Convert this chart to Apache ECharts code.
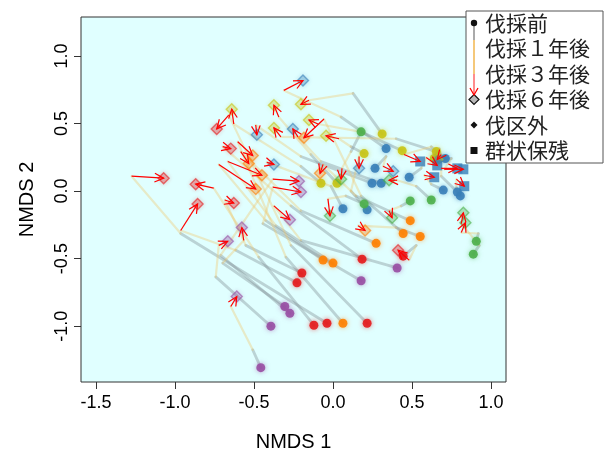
<!DOCTYPE html>
<html><head><meta charset="utf-8">
<script src="https://cdn.jsdelivr.net/npm/echarts@6/dist/echarts.min.js"></script>
<style>html,body{margin:0;padding:0;background:#fff}#c{width:604px;height:457px}</style>
</head><body><div id="c"></div>
<script>
// ---- data (NMDS coordinates) ----
const xTicks = [-1.5, -1.0, -0.5, 0.0, 0.5, 1.0];
const yTicks = [-1.0, -0.5, 0.0, 0.5, 1.0];
const legendLabels = ['伐採前', '伐採１年後', '伐採３年後', '伐採６年後', '伐区外', '群状保残'];
const siteGroup = ['purple','purple','purple','purple','purple','purple',
  'red','red','red','red','red','red','red',
  'orange','orange','orange','orange','orange','orange','orange',
  'yellow','yellow','yellow','yellow','yellow','yellow','yellow',
  'blue','blue','blue','blue','blue','blue',
  'blue','blue','blue','blue','blue','blue',
  'green','green','green','green','green','green'];
const siteType = ['c','c','c','c','c','c', 'c','c','c','c','c','c','c',
  'c','c','c','c','c','c','c', 'c','c','c','c','c','c','c',
  'c','c','c','c','c','c', 'r','r','r','r','r','r',
  'c','c','c','c','c','c'];
const before = [[-0.457,-1.307],[-0.393,-1.000],[-0.305,-0.854],[-0.273,-0.905],[0.178,-0.664],[0.406,-0.569],
  [-0.197,-0.606],[-0.228,-0.679],[-0.121,-0.993],[-0.038,-0.978],[0.216,-0.978],[0.184,-0.504],[0.444,-0.482],
  [-0.063,-0.511],[0.000,-0.533],[0.063,-0.978],[0.273,-0.387],[0.444,-0.314],[0.489,-0.219],[0.552,-0.336],
  [-0.076,0.058],[0.025,0.058],[0.311,0.423],[0.438,0.299],[0.654,0.292],[0.197,0.277],[0.641,0.241],
  [0.336,0.314],[0.247,0.058],[0.305,0.058],[0.063,-0.131],[0.216,-0.139],[0.266,0.168],
  [0.698,0.007],[0.806,-0.036],[0.711,0.241],[0.666,0.234],[0.482,0.102],[0.787,-0.007],
  [0.178,0.438],[0.197,-0.095],[0.489,-0.073],[0.622,-0.066],[0.888,-0.467],[0.907,-0.372]];
const year1 = [[-0.508,-1.175],[-0.742,-0.635],[-0.698,-0.533],[-0.711,-0.475],[-0.444,-0.241],[-0.203,-0.365],
  [-0.552,-0.402],[-0.615,-0.438],[-0.470,-0.489],[-0.964,-0.314],[-0.266,-0.402],[-0.266,-0.110],[0.527,-0.402],
  [-0.425,-0.219],[-0.362,-0.256],[-0.298,-0.489],[-0.203,-0.146],[0.178,-0.036],[0.146,-0.036],[0.400,-0.270],
  [-0.203,0.183],[-0.140,0.270],[0.127,0.723],[0.178,0.438],[0.400,0.387],[0.114,0.328],[0.673,0.314],
  [0.051,0.548],[-0.203,0.256],[-0.076,0.219],[-0.013,0.036],[0.114,0.000],[0.336,0.256],
  [0.622,0.051],[0.781,0.022],[0.622,0.328],[0.749,0.241],[0.558,0.168],[0.685,0.110],
  [0.114,0.292],[0.082,-0.036],[0.431,-0.110],[0.527,0.036],[0.926,-0.402],[0.920,-0.314]];
const year3 = [[-0.647,-0.854],[-0.723,-0.402],[-0.565,-0.365],[-0.381,0.088],[-0.381,0.029],[-0.374,-0.110],
  [-0.685,-0.066],[-0.964,-0.292],[-0.755,0.022],[-1.275,0.110],[-0.660,0.562],[-0.698,0.329],[0.482,-0.511],
  [-0.723,0.197],[-0.666,0.219],[-0.603,0.365],[-0.584,0.292],[-0.057,0.533],[-0.063,0.197],[0.159,-0.256],
  [-0.628,0.496],[-0.343,0.548],[-0.152,0.672],[-0.095,0.496],[-0.330,0.401],[0.038,0.387],[0.685,0.270],
  [-0.311,0.745],[-0.489,0.489],[-0.222,0.401],[-0.419,0.212],[0.165,0.256],[0.317,0.183],
  [0.577,0.117],[0.781,0.088],[0.450,0.270],[0.704,0.161],[0.590,0.248],[0.685,0.168],
  [0.057,0.168],[-0.032,-0.058],[0.355,-0.146],[0.406,0.080],[0.812,-0.241],[0.812,-0.307]];
const year6 = [[-0.609,-0.781],[-0.666,-0.372],[-0.577,-0.270],[-0.216,0.073],[-0.203,-0.007],[-0.273,-0.212],
  [-0.628,-0.088],[-0.857,-0.095],[-0.869,0.051],[-1.072,0.095],[-0.736,0.460],[-0.647,0.314],[0.412,-0.438],
  [-0.489,0.015],[-0.450,0.117],[-0.508,0.263],[-0.533,0.204],[-0.184,0.394],[-0.082,0.131],[0.203,-0.292],
  [-0.641,0.606],[-0.374,0.635],[-0.203,0.642],[-0.152,0.526],[-0.374,0.467],[-0.044,0.409],[0.660,0.234],
  [-0.190,0.818],[-0.482,0.416],[-0.254,0.460],[-0.374,0.197],[0.165,0.168],[0.381,0.146],
  [0.641,0.102],[0.831,0.036],[0.552,0.219],[0.825,0.161],[0.660,0.190],[0.787,0.168],
  [0.051,0.088],[-0.019,-0.183],[0.374,-0.197],[0.355,0.080],[0.825,-0.161],[0.838,-0.234]];

const palette = {red:'#e41a1c', blue:'#377eb8', green:'#4daf4a', purple:'#984ea3', orange:'#ff7f00', yellow:'#c8c414'};
function alpha(hex, a) {
  const n = parseInt(hex.slice(1), 16);
  return 'rgba(' + (n >> 16) + ',' + ((n >> 8) & 255) + ',' + (n & 255) + ',' + a + ')';
}

// ---- build series ----
const segData = (a, b) => a.map((p, i) => [p[0], p[1], b[i][0], b[i][1]]);
function segSeries(data, color, width, z) {
  return { type:'custom', z:z, silent:true, data:data,
    renderItem:(params, api) => {
      const s = api.coord([api.value(0), api.value(1)]);
      const e = api.coord([api.value(2), api.value(3)]);
      return { type:'line', shape:{x1:s[0], y1:s[1], x2:e[0], y2:e[1]},
        style:{stroke:color, lineWidth:width, lineCap:'round'} };
    } };
}
const arrowSeries = { type:'custom', z:10, silent:true, data: segData(year3, year6),
  renderItem:(params, api) => {
    const s = api.coord([api.value(0), api.value(1)]);
    const e = api.coord([api.value(2), api.value(3)]);
    const ang = Math.atan2(e[1]-s[1], e[0]-s[0]);
    const L = 10, h = 0.45;
    const a1 = [e[0]-L*Math.cos(ang-h), e[1]-L*Math.sin(ang-h)];
    const a2 = [e[0]-L*Math.cos(ang+h), e[1]-L*Math.sin(ang+h)];
    return { type:'group', children:[
      { type:'line', shape:{x1:s[0], y1:s[1], x2:e[0], y2:e[1]}, style:{stroke:'#ff0000', lineWidth:1.2} },
      { type:'polyline', shape:{points:[a1, e, a2]}, style:{stroke:'#ff0000', fill:null, lineWidth:1.2} }
    ]};
  } };

const beforePts = before.map((p, i) => ({ value:p,
  itemStyle:{ color:palette[siteGroup[i]], opacity:0.9, shadowBlur:5, shadowColor:alpha(palette[siteGroup[i]], 0.6) } }));
const afterDiamonds = year6.map((p, i) => siteType[i] === 'r' ? null : ({ value:p,
  itemStyle:{ color:alpha(palette[siteGroup[i]], 0.35), borderColor:alpha(palette[siteGroup[i]], 0.75), borderWidth:1.4,
    shadowBlur:4, shadowColor:alpha(palette[siteGroup[i]], 0.4) } })).filter(Boolean);
const afterSquares = year6.map((p, i) => siteType[i] === 'r' ? ({ value:p,
  itemStyle:{ color:palette[siteGroup[i]] } }) : null).filter(Boolean);

const chart = echarts.init(document.getElementById('c'), null, {renderer:'canvas'});
const axisFont = {fontFamily:'Liberation Sans, Arial, sans-serif', fontSize:18, color:'#000'};
const legendY = [23, 48.5, 74, 99.5, 125, 150.5];
const lx = 474;
const graphics = [
  { type:'rect', shape:{x:466, y:11, width:137, height:152}, style:{fill:'#fff', stroke:'#555', lineWidth:1}, z:100 },
  { type:'line', shape:{x1:lx, y1:legendY[0], x2:lx, y2:40}, style:{stroke:'#aaaaaa', lineWidth:2}, z:101 },
  { type:'line', shape:{x1:lx, y1:40, x2:lx, y2:74}, style:{stroke:'#f5c87a', lineWidth:2}, z:101 },
  { type:'line', shape:{x1:lx, y1:74, x2:lx, y2:95}, style:{stroke:'#ff5050', lineWidth:1.3}, z:101 },
  { type:'polyline', shape:{points:[[lx-4,88],[lx,95],[lx+4,88]]}, style:{stroke:'#ff0000', fill:null, lineWidth:1.3}, z:102 },
  { type:'circle', shape:{cx:lx, cy:legendY[0], r:3.2}, style:{fill:'#111'}, z:102 },
  { type:'polygon', shape:{points:[[lx,legendY[3]-5],[lx+5,legendY[3]],[lx,legendY[3]+5],[lx-5,legendY[3]]]}, style:{fill:'rgba(80,80,80,0.4)', stroke:'#111', lineWidth:1.2}, z:101 },
  { type:'polygon', shape:{points:[[lx,legendY[4]-3.5],[lx+3.5,legendY[4]],[lx,legendY[4]+3.5],[lx-3.5,legendY[4]]]}, style:{fill:'#111'}, z:102 },
  { type:'rect', shape:{x:lx-3.5, y:legendY[5]-3.5, width:7, height:7}, style:{fill:'#111'}, z:102 }
];
legendLabels.forEach((t, i) => graphics.push({ type:'text', x:485, y:legendY[i], z:103,
  style:{ text:t, fill:'#222', font:'21px "Noto Sans CJK JP", sans-serif', verticalAlign:'middle', align:'left' } }));

chart.setOption({
  animation:false,
  backgroundColor:'#fff',
  grid:{ left:81, right:98, top:17, bottom:67, show:true, backgroundColor:'#e0ffff', borderColor:'#333', borderWidth:1 },
  xAxis:{ type:'value', min:-1.595, max:1.095, name:'NMDS 1', nameLocation:'middle', nameGap:50,
    nameTextStyle:{fontFamily:'Liberation Sans, Arial, sans-serif', fontSize:20, color:'#000'},
    axisLine:{show:false, onZero:false}, splitLine:{show:false},
    axisTick:{show:true, inside:false, length:7, customValues:xTicks, lineStyle:{color:'#333'}},
    axisLabel:Object.assign({margin:12, customValues:xTicks, formatter:v => v.toFixed(1)}, axisFont) },
  yAxis:{ type:'value', min:-1.413, max:1.288, name:'NMDS 2', nameLocation:'middle', nameGap:44, nameRotate:90,
    nameTextStyle:{fontFamily:'Liberation Sans, Arial, sans-serif', fontSize:20, color:'#000'},
    axisLine:{show:false, onZero:false}, splitLine:{show:false},
    axisTick:{show:true, inside:false, length:7, customValues:yTicks, lineStyle:{color:'#333'}},
    axisLabel:Object.assign({margin:10, rotate:90, customValues:yTicks, formatter:v => v.toFixed(1)}, axisFont) },
  series:[
    segSeries(segData(before, year1), 'rgba(130,145,150,0.4)', 2.8, 1),
    segSeries(segData(year1, year3), 'rgba(240,200,110,0.38)', 2.2, 2),
    { type:'scatter', z:4, symbol:'circle', symbolSize:9, data:beforePts, silent:true },
    { type:'scatter', z:5, symbol:'diamond', symbolSize:11, data:afterDiamonds, silent:true },
    { type:'scatter', z:5, symbol:'rect', symbolSize:10, data:afterSquares, silent:true },
    arrowSeries
  ],
  graphic:graphics
});
</script></body></html>
